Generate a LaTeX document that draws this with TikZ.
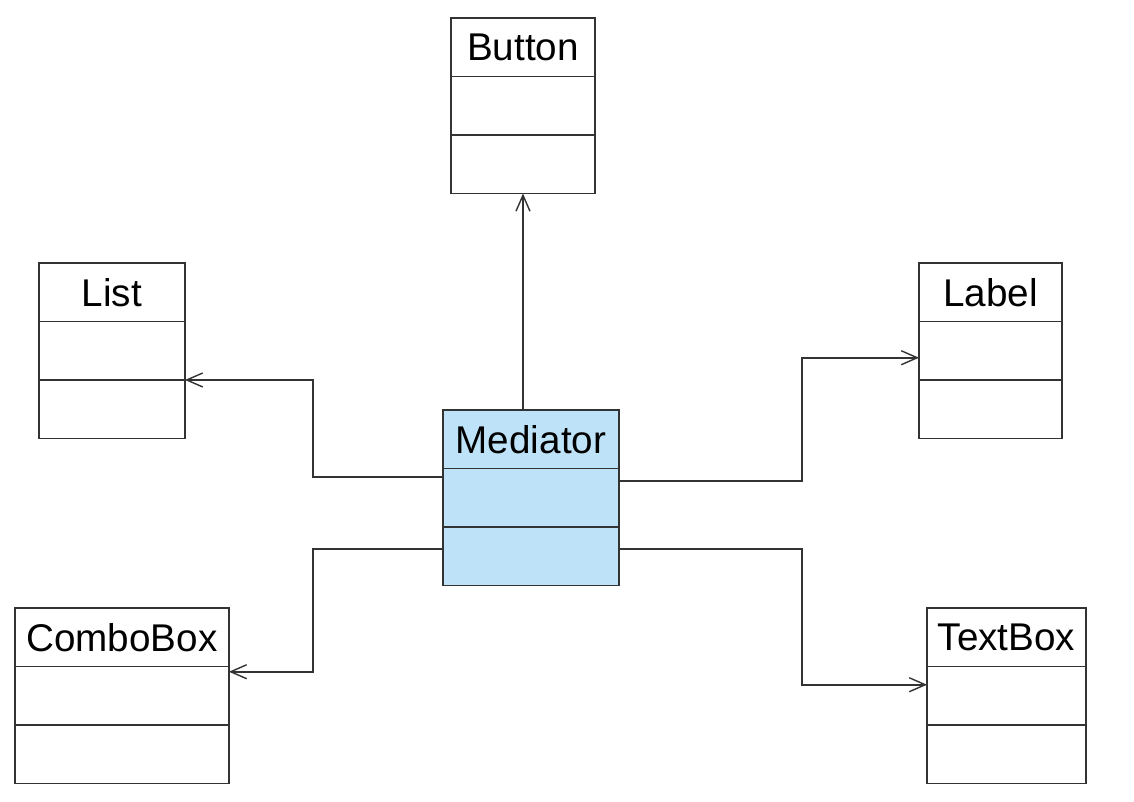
\documentclass[tikz,border=0pt]{standalone}
\usepackage{fontspec}
\setmainfont{Liberation Sans}
\usepackage{tikz}
\usetikzlibrary{arrows.meta, positioning}
\definecolor{medblue}{HTML}{BEE3F8}
\definecolor{linegray}{HTML}{333333}

\begin{document}
\begin{tikzpicture}[
    x=0.02cm, y=-0.02cm,
    every node/.style={font=\fontsize{22}{26}\selectfont},
    box/.style={
        rectangle,
        draw=linegray,
        line width=1pt,
        fill=white,
        minimum height=1.17cm,
        inner sep=0pt,
        outer sep=0pt
    },
    classname/.style={box, anchor=north west},
    arrow/.style={line width=1pt, color=linegray, -{Straight Barb[length=3.2mm, width=2.8mm, line width=0.8pt]}}
]

\useasboundingbox (0,0) rectangle (1134,802);

\node[classname, minimum width=2.88cm] (btn) at (451,18) {Button};
\node[box, minimum width=2.88cm, below=0pt of btn] (btnA) {};
\node[box, minimum width=2.88cm, below=0pt of btnA] (btnB) {};

\node[classname, minimum width=2.92cm] (lst) at (39,263) {List};
\node[box, minimum width=2.92cm, below=0pt of lst] (lstA) {};
\node[box, minimum width=2.92cm, below=0pt of lstA] (lstB) {};

\node[classname, minimum width=2.86cm] (lbl) at (919,263) {Label};
\node[box, minimum width=2.86cm, below=0pt of lbl] (lblA) {};
\node[box, minimum width=2.86cm, below=0pt of lblA] (lblB) {};

\node[classname, minimum width=3.52cm, fill=medblue] (med) at (443,410) {Mediator};
\node[box, minimum width=3.52cm, fill=medblue, below=0pt of med] (medA) {};
\node[box, minimum width=3.52cm, fill=medblue, below=0pt of medA] (medB) {};

\node[classname, minimum width=4.28cm] (cbx) at (15,608) {ComboBox};
\node[box, minimum width=4.28cm, below=0pt of cbx] (cbxA) {};
\node[box, minimum width=4.28cm, below=0pt of cbxA] (cbxB) {};

\node[classname, minimum width=3.18cm] (tbx) at (927,608) {TextBox};
\node[box, minimum width=3.18cm, below=0pt of tbx] (tbxA) {};
\node[box, minimum width=3.18cm, below=0pt of tbxA] (tbxB) {};

\draw[arrow] (btnB.south |- med.north) -- (btnB.south);
\draw[arrow] ([yshift=4.2mm]medA.west) -- ++(-130,0) |- (lstA.south east);
\draw[arrow] ([yshift=3.4mm]medA.east) -- ++(183,0) |- ([yshift=-1.4mm]lblA.west);
\draw[arrow] ([yshift=1.4mm]medB.west) -- ++(-130,0) |- ([yshift=4.8mm]cbxA.east);
\draw[arrow] ([yshift=1.4mm]medB.east) -- ++(183,0) |- ([yshift=2.2mm]tbxA.west);

\end{tikzpicture}
\end{document}
